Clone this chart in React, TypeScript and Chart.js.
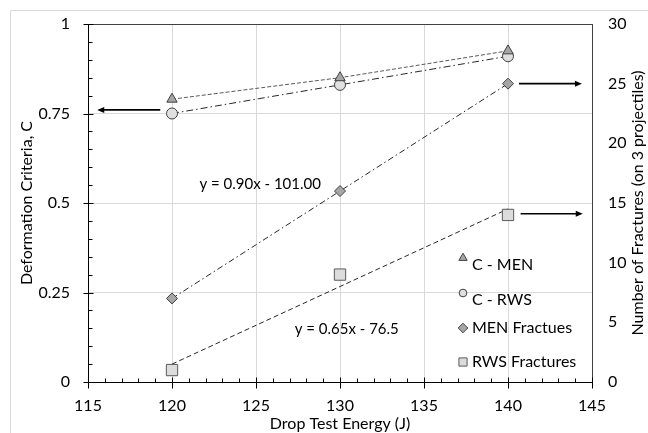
import React, { useEffect, useRef } from "react";
import { Chart, registerables } from "chart.js";
Chart.register(...registerables);

// ---- data ----
const energies = [120, 130, 140];
const cMen = [0.79, 0.85, 0.925];
const cRws = [0.75, 0.83, 0.91];
const menFractures = [7, 16, 25];
const rwsFractures = [1, 9, 14];
const rwsTrendX = [120, 140];
const rwsTrend = [1.5, 14.5];
const seriesLabels = ["C - MEN", "C - RWS", "MEN Fractues", "RWS Fractures"];
const xTitle = "Drop Test Energy (J)";
const yTitle = "Deformation Criteria, C";
const y1Title = "Number of Fractures (on 3 projectiles)";
const equations = ["y = 0.90x - 101.00", "y = 0.65x - 76.5"];
const equationX = [125.25, 130.4];
const equationY = [16.6, 4.45];
const arrowAxis = ["y", "y1", "y1"];
const arrowY = [0.76, 25, 14.1];
const arrowFrom = [119.3, 140.65, 140.75];
const arrowTo = [115.55, 144.4, 144.45];

const FONT = "Lato, 'Open Sans', sans-serif";

function drawMarker(ctx: CanvasRenderingContext2D, style: string, x: number, y: number, r: number, fill: string, stroke: string) {
  ctx.save();
  ctx.fillStyle = fill;
  ctx.strokeStyle = stroke;
  ctx.lineWidth = 1;
  ctx.beginPath();
  if (style === "triangle") {
    for (let k = 0; k < 3; k++) {
      const a = (k * 2 * Math.PI) / 3;
      const px = x + Math.sin(a) * r;
      const py = y - Math.cos(a) * r;
      if (k === 0) ctx.moveTo(px, py); else ctx.lineTo(px, py);
    }
    ctx.closePath();
  } else if (style === "circle") {
    ctx.arc(x, y, r * 0.8, 0, Math.PI * 2);
  } else if (style === "rectRot") {
    ctx.moveTo(x, y - r);
    ctx.lineTo(x + r, y);
    ctx.lineTo(x, y + r);
    ctx.lineTo(x - r, y);
    ctx.closePath();
  } else {
    const s = r * 0.85;
    ctx.rect(x - s, y - s, 2 * s, 2 * s);
  }
  ctx.fill();
  ctx.stroke();
  ctx.restore();
}

const decorPlugin = {
  id: "decor",
  beforeDraw(chart: any) {
    const ctx = chart.ctx;
    ctx.save();
    ctx.strokeStyle = "#d9d9d9";
    ctx.lineWidth = 1;
    ctx.beginPath();
    ctx.moveTo(2.5, chart.height);
    ctx.lineTo(2.5, 2.5);
    ctx.lineTo(chart.width, 2.5);
    ctx.stroke();
    ctx.restore();
  },
  afterDraw(chart: any) {
    const ctx: CanvasRenderingContext2D = chart.ctx;
    const xs = chart.scales.x;
    const ys = chart.scales.y;
    const area = chart.chartArea;
    ctx.save();
    // top frame
    ctx.strokeStyle = "#404040";
    ctx.lineWidth = 1;
    ctx.beginPath();
    ctx.moveTo(area.left, Math.round(area.top) + 0.5);
    ctx.lineTo(area.right, Math.round(area.top) + 0.5);
    ctx.stroke();
    // ticks
    ctx.strokeStyle = "#000";
    const lx = Math.round(area.left) + 0.5;
    for (let i = 0; i <= 20; i++) {
      const py = Math.round(ys.getPixelForValue(i * 0.05)) + 0.5;
      ctx.beginPath();
      if (i % 5 === 0) { ctx.moveTo(lx - 5, py); ctx.lineTo(lx + 5, py); }
      else { ctx.moveTo(lx, py); ctx.lineTo(lx + 4, py); }
      ctx.stroke();
    }
    const by = Math.round(area.bottom) + 0.5;
    for (let v = 115; v <= 145; v++) {
      const px = Math.round(xs.getPixelForValue(v)) + 0.5;
      ctx.beginPath();
      if (v % 5 === 0) { ctx.moveTo(px, by - 5); ctx.lineTo(px, by + 6); }
      else { ctx.moveTo(px, by - 4); ctx.lineTo(px, by); }
      ctx.stroke();
    }
    // arrows
    ctx.fillStyle = "#000";
    ctx.lineWidth = 1.6;
    for (let i = 0; i < arrowY.length; i++) {
      const sc = chart.scales[arrowAxis[i]];
      const y = sc.getPixelForValue(arrowY[i]);
      const x1 = xs.getPixelForValue(arrowFrom[i]);
      const x2 = xs.getPixelForValue(arrowTo[i]);
      const dir = Math.sign(x2 - x1);
      ctx.beginPath();
      ctx.moveTo(x1, y);
      ctx.lineTo(x2 - dir * 6, y);
      ctx.stroke();
      ctx.beginPath();
      ctx.moveTo(x2, y);
      ctx.lineTo(x2 - dir * 7, y - 3);
      ctx.lineTo(x2 - dir * 7, y + 3);
      ctx.closePath();
      ctx.fill();
    }
    // equations
    const y1 = chart.scales.y1;
    ctx.font = `15px ${FONT}`;
    ctx.fillStyle = "#000";
    ctx.textAlign = "center";
    ctx.textBaseline = "middle";
    for (let i = 0; i < equations.length; i++) {
      ctx.fillText(equations[i], xs.getPixelForValue(equationX[i]), y1.getPixelForValue(equationY[i]));
    }
    // right axis title (reads bottom to top)
    ctx.save();
    ctx.font = `16px ${FONT}`;
    ctx.translate(chart.width - 10, (area.top + area.bottom) / 2);
    ctx.rotate(-Math.PI / 2);
    ctx.fillText(y1Title, 0, 0);
    ctx.restore();
    // legend
    const markerX = 455;
    const textX = 464;
    const markerYs = [250, 285, 320, 354];
    const textYs = [257, 292, 320, 354];
    ctx.font = `16px ${FONT}`;
    ctx.textAlign = "left";
    ctx.textBaseline = "middle";
    for (let i = 0; i < 4; i++) {
      const ds = chart.data.datasets[i];
      drawMarker(ctx, ds.pointStyle, markerX, markerYs[i], 4.8, ds.pointBackgroundColor, ds.pointBorderColor);
      ctx.fillStyle = "#000";
      ctx.fillText(ds.label, textX, textYs[i]);
    }
    ctx.restore();
  },
};

const noVPad = (w: number) => (s: any) => { s.width = w; s.paddingTop = 0; s.paddingBottom = 0; };

if (typeof document !== "undefined") {
  document.documentElement.style.overflow = "hidden";
  document.body.style.margin = "0";
}

export default function App() {
  const ref = useRef<HTMLCanvasElement>(null);
  useEffect(() => {
    document.documentElement.style.overflow = "hidden";
    document.body.style.margin = "0";
    if (!ref.current) return;
    const pts = (ys: number[], xsArr: number[] = energies) => xsArr.map((x, i) => ({ x, y: ys[i] }));
    const chart = new Chart(ref.current, {
      type: "scatter",
      data: {
        datasets: [
          {
            label: seriesLabels[0], data: pts(cMen), yAxisID: "y", showLine: true,
            borderColor: "#595959", borderWidth: 1, borderDash: [4, 2],
            pointStyle: "triangle", pointRadius: 6, pointBackgroundColor: "#a6a6a6", pointBorderColor: "#404040", pointBorderWidth: 1,
          },
          {
            label: seriesLabels[1], data: pts(cRws), yAxisID: "y", showLine: true,
            borderColor: "#262626", borderWidth: 1, borderDash: [7, 3, 1.5, 3],
            pointStyle: "circle", pointRadius: 5.5, pointBackgroundColor: "#e0e0e0", pointBorderColor: "#404040", pointBorderWidth: 1,
          },
          {
            label: seriesLabels[2], data: pts(menFractures), yAxisID: "y1", showLine: true,
            borderColor: "#262626", borderWidth: 1, borderDash: [6, 3, 1.5, 3],
            pointStyle: "rectRot", pointRadius: 5.5, pointBackgroundColor: "#a6a6a6", pointBorderColor: "#404040", pointBorderWidth: 1,
          },
          {
            label: seriesLabels[3], data: pts(rwsFractures), yAxisID: "y1", showLine: false,
            borderColor: "#262626", borderWidth: 1,
            pointStyle: "rect", pointRadius: 8, pointBackgroundColor: "#dcdcdc", pointBorderColor: "#595959", pointBorderWidth: 1,
          },
          {
            label: "trend", data: pts(rwsTrend, rwsTrendX), yAxisID: "y1", showLine: true,
            borderColor: "#262626", borderWidth: 1, borderDash: [5, 3], pointRadius: 0,
          },
        ] as any,
      },
      options: {
        animation: false,
        responsive: false,
        layout: { padding: { top: 16, left: 0, right: 0, bottom: 0 } },
        plugins: { legend: { display: false }, tooltip: { enabled: false } },
        scales: {
          x: {
            type: "linear", min: 115, max: 145,
            ticks: { stepSize: 5, color: "#000", font: { family: FONT, size: 16 }, padding: 14 },
            grid: { color: "#d9d9d9", drawTicks: false },
            border: { color: "#000" },
            title: { display: true, text: xTitle, color: "#000", font: { family: FONT, size: 16 }, padding: 0 },
            afterFit: (s: any) => { s.height = 51; s.paddingLeft = 0; s.paddingRight = 0; },
          },
          y: {
            type: "linear", position: "left", min: 0, max: 1,
            ticks: {
              stepSize: 0.25, color: "#000", font: { family: FONT, size: 16 }, padding: 18,
              callback: (v: any) => String(Number(Number(v).toFixed(2))),
            },
            grid: { color: "#d9d9d9", drawTicks: false },
            border: { color: "#000" },
            title: { display: true, text: yTitle, color: "#000", font: { family: FONT, size: 16 }, padding: { top: 9, bottom: 0 } },
            afterFit: noVPad(80),
          },
          y1: {
            type: "linear", position: "right", min: 0, max: 30,
            ticks: { stepSize: 5, color: "#000", font: { family: FONT, size: 16 }, padding: 16 },
            grid: { display: false, drawTicks: false },
            border: { color: "#404040" },
            afterFit: noVPad(56),
          },
        },
      } as any,
      plugins: [decorPlugin],
    });
    return () => chart.destroy();
  }, []);
  return (
    <div style={{ width: 640, height: 425, padding: 8 }}>
      <canvas ref={ref} width={640} height={425} style={{ display: "block" }} />
    </div>
  );
}
